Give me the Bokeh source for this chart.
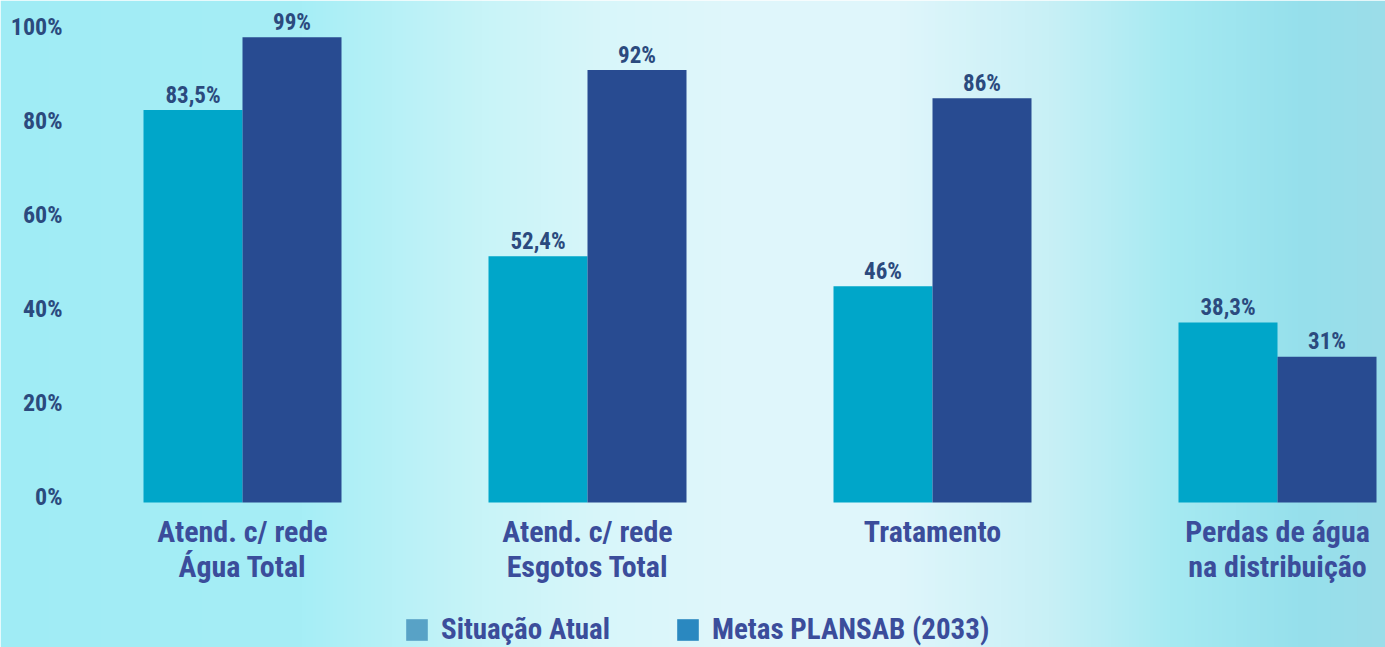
import numpy as np
from bokeh.plotting import figure
from bokeh.models import (Range1d, LinearAxis, FixedTicker, ColumnDataSource,
                          LabelSet, Legend, LegendItem)
from bokeh.core.properties import value
from bokeh.transform import dodge
from bokeh.embed import file_html
from bokeh.resources import INLINE

# ---------------- data ----------------
categories = ["Atend. c/ rede\nÁgua Total", "Atend. c/ rede\nEsgotos Total",
              "Tratamento", "Perdas de água\nna distribuição"]
situacao_atual = [83.5, 52.4, 46.0, 38.3]
metas_plansab = [99.0, 92.0, 86.0, 31.0]
situacao_labels = ["83,5%", "52,4%", "46%", "38,3%"]
metas_labels = ["99%", "92%", "86%", "31%"]
series_names = ["Situação Atual", "Metas PLANSAB (2033)"]
y_ticks = [0, 20, 40, 60, 80, 100]
y_tick_labels = ["0%", "20%", "40%", "60%", "80%", "100%"]

# ---------------- style ----------------
W, H = 1385, 647
FONT_STR = "'Liberation Sans Narrow', 'Roboto Condensed', 'DejaVu Sans Condensed', 'Open Sans', sans-serif"
FONT = value(FONT_STR)
bar_colors = ["#00a6c9", "#284b91"]
legend_colors = ["#58a2c6", "#2a88c0"]
tick_color = "#2b4a7e"
cat_color = "#3b4d9b"

UNIT_X = 345.0     # px per category
X0_PX = 242.0      # px of first category centre
PX_PER_PCT = 4.7
ZERO_PX = 502.0    # px from top of zero line
BAR_W = 99.0 / UNIT_X

x_range = Range1d(-X0_PX / UNIT_X, (W - X0_PX) / UNIT_X)
y_range = Range1d(-(H - ZERO_PX) / PX_PER_PCT, ZERO_PX / PX_PER_PCT)

p = figure(width=W, height=H, x_range=x_range, y_range=y_range,
           output_backend="svg", toolbar_location=None,
           x_axis_location=None, y_axis_location=None,
           min_border=0, min_border_left=0, min_border_right=0,
           min_border_top=0, min_border_bottom=0)
p.outline_line_color = None
p.xgrid.visible = False
p.ygrid.visible = False
p.border_fill_color = "#c8f0f6"

# background gradient (style only)
stops_x = [0, 300, 480, 600, 720, 900, 1000, 1050, 1170, 1300, 1385]
R = [160, 166, 200, 216, 223, 223, 208, 200, 166, 150, 156]
G = [236, 238, 244, 246, 246, 246, 242, 240, 234, 224, 221]
B = [245, 246, 248, 250, 251, 251, 248, 246, 242, 236, 233]
N = 400
cols_X = (np.arange(N) + 0.5) * W / N
img = np.empty((2, N), dtype=np.uint32)
view = img.view(dtype=np.uint8).reshape((2, N, 4))
for row in range(2):
    view[row, :, 0] = np.interp(cols_X, stops_x, R).astype(np.uint8)
    view[row, :, 1] = np.interp(cols_X, stops_x, G).astype(np.uint8)
    view[row, :, 2] = np.interp(cols_X, stops_x, B).astype(np.uint8)
    view[row, :, 3] = 255
p.image_rgba(image=[img], x=x_range.start, y=y_range.start,
             dw=x_range.end - x_range.start, dh=y_range.end - y_range.start)

# bars
src = ColumnDataSource(dict(idx=list(range(len(categories))), cat=categories,
                            atual=situacao_atual, metas=metas_plansab,
                            atual_lbl=situacao_labels, metas_lbl=metas_labels,
                            base=[0] * len(categories)))
p.vbar(x=dodge("idx", -BAR_W / 2, range=p.x_range), top="atual", bottom=0,
       width=BAR_W, source=src, fill_color=bar_colors[0], line_color=None)
p.vbar(x=dodge("idx", BAR_W / 2, range=p.x_range), top="metas", bottom=0,
       width=BAR_W, source=src, fill_color=bar_colors[1], line_color=None)

# value labels
for col, lbl, off in [("atual", "atual_lbl", -BAR_W / 2), ("metas", "metas_lbl", BAR_W / 2)]:
    ls = LabelSet(x=dodge("idx", off, range=p.x_range), y=col, text=lbl, source=src,
                  y_offset=15, text_align="center", text_baseline="middle",
                  text_font=FONT, text_font_style="bold", text_font_size="23px",
                  text_color=tick_color)
    p.add_layout(ls)

# category labels under the bars
p.text(x="idx", y="base", text="cat", source=src, y_offset=11,
       text_align="center", text_baseline="top", text_line_height=1.0,
       text_font=FONT, text_font_style="bold", text_font_size="30px",
       text_color=cat_color)

# y axis (fixed inside the frame)
p.extra_y_ranges = {"ticks": Range1d(y_range.start - 1.1, y_range.end - 1.1)}
yax = LinearAxis(y_range_name="ticks", fixed_location=(62 - X0_PX) / UNIT_X,
                 ticker=FixedTicker(ticks=y_ticks),
                 major_label_overrides={t: l for t, l in zip(y_ticks, y_tick_labels)})
yax.axis_line_color = None
yax.major_tick_line_color = None
yax.minor_tick_line_color = None
yax.major_tick_out = 0
yax.major_tick_in = 0
yax.major_label_standoff = 0
yax.major_label_text_font = FONT_STR
yax.major_label_text_font_style = "bold"
yax.major_label_text_font_size = "24px"
yax.major_label_text_color = tick_color
p.add_layout(yax, "left")

# legend (renderers carrying legend colours, no visible marks)
legend_locs = [(403, 1), (674, 1)]
for name, colr, loc in zip(series_names, legend_colors, legend_locs):
    r = p.rect(x=[np.nan], y=[np.nan], width=1, height=1, fill_color=colr, line_color=None)
    lg = Legend(items=[LegendItem(label=name, renderers=[r])], location=loc,
                orientation="horizontal", padding=0, margin=0,
                border_line_color=None, background_fill_alpha=0,
                glyph_width=27, glyph_height=27, label_standoff=11,
                label_text_font=FONT_STR, label_text_font_style="bold",
                label_text_font_size="29px", label_text_color=cat_color)
    p.add_layout(lg, "center")

open("out.html", "w").write(file_html(p, INLINE))
